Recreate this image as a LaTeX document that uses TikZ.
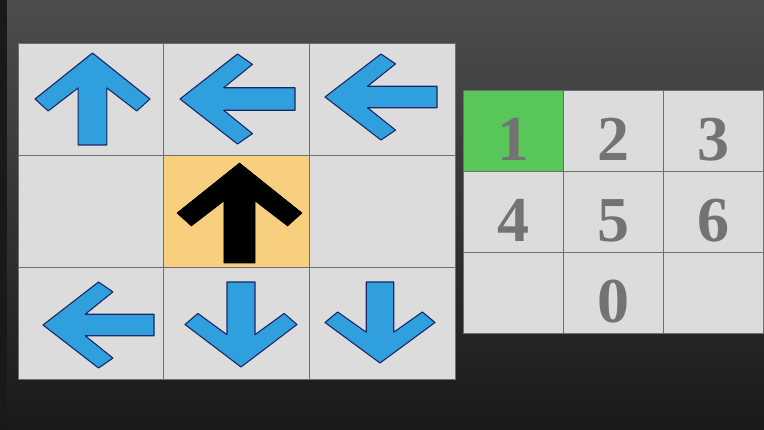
\documentclass[tikz,border=0pt]{standalone}
\usepackage{fontspec}
\setmainfont{Liberation Serif}
\usepackage{tikz}

\definecolor{screenbg}{HTML}{2E2E2E}
\definecolor{tilegray}{HTML}{DCDCDC}
\definecolor{tileline}{HTML}{6E6E6E}
\definecolor{arrowblue}{HTML}{2F9FDE}
\definecolor{arrowrim}{HTML}{1B2766}
\definecolor{activeorange}{HTML}{F8CF7F}
\definecolor{keygreen}{HTML}{58C658}
\definecolor{digitgray}{HTML}{737373}

% arrow pointing right, in a box from -1 to 1
\def\arrowpath{(1,0) -- (0,1) -- (-0.26,0.77) -- (0.24,0.25) -- (-1,0.25) -- (-1,-0.25) -- (0.24,-0.25) -- (-0.26,-0.77) -- (0,-1) -- cycle}

\begin{document}
\begin{tikzpicture}[x=1pt, y=-1pt,
  tile/.style={draw=tileline, line width=0.9pt, fill=tilegray, inner sep=0pt,
    minimum width=145.7pt, minimum height=112.3pt},
  keytile/.style={draw=tileline, line width=0.9pt, fill=tilegray, inner sep=0pt,
    minimum width=100.3pt, minimum height=81pt, text=digitgray,
    font=\fontsize{64}{64}\selectfont\bfseries, text height=61pt, text depth=0pt},
  bluearrow/.style={fill=arrowblue, draw=arrowrim, line width=1.1pt, line join=round},
  blackarrow/.style={fill=black, draw=black, line width=0.6pt}]
  % Skjerm
  \shade[top color=screenbg!85!white, bottom color=screenbg!55!black] (0,0) rectangle (764,430);
  \fill[black!90] (0,0) rectangle (7,430);
  \useasboundingbox (0,0) rectangle (764,430);
  % Pilrutenett
  \foreach \r in {1,2,3} {
    \foreach \c in {1,2,3} {
      \node[tile] (t\r\c) at ({18+145.7*(\c-0.5)},{43+112.3*(\r-0.5)}) {};
    }
  }
  \node[tile, fill=activeorange] (t22) at (t22) {};
  % Piler, rad 1
  \draw[bluearrow, shift={(92.5,99)}, xscale=57.5, yscale=46, rotate=90] \arrowpath;
  \draw[bluearrow, shift={(237.5,99)}, xscale=57.5, yscale=45, rotate=180] \arrowpath;
  \draw[bluearrow, shift={(381,97)}, xscale=56, yscale=43, rotate=180] \arrowpath;
  % Rad 2
  \draw[blackarrow, shift={(239.5,213)}, xscale=62.5, yscale=50, rotate=90] \arrowpath;
  % Rad 3
  \draw[bluearrow, shift={(98.5,325)}, xscale=55.5, yscale=43, rotate=180] \arrowpath;
  \draw[bluearrow, shift={(241,324.5)}, xscale=56, yscale=42.5, rotate=-90] \arrowpath;
  \draw[bluearrow, shift={(380,322.5)}, xscale=55, yscale=40.5, rotate=-90] \arrowpath;
  % Talltastatur
  \node[keytile, fill=keygreen] (k1) at ({463+100.3*0.5},{90+81*0.5}) {1};
  \node[keytile] (k2) at ({463+100.3*1.5},{90+81*0.5}) {2};
  \node[keytile] (k3) at ({463+100.3*2.5},{90+81*0.5}) {3};
  \node[keytile] (k4) at ({463+100.3*0.5},{90+81*1.5}) {4};
  \node[keytile] (k5) at ({463+100.3*1.5},{90+81*1.5}) {5};
  \node[keytile] (k6) at ({463+100.3*2.5},{90+81*1.5}) {6};
  \node[keytile] (k7) at ({463+100.3*0.5},{90+81*2.5}) {};
  \node[keytile] (k0) at ({463+100.3*1.5},{90+81*2.5}) {0};
  \node[keytile] (k9) at ({463+100.3*2.5},{90+81*2.5}) {};
\end{tikzpicture}
\end{document}
